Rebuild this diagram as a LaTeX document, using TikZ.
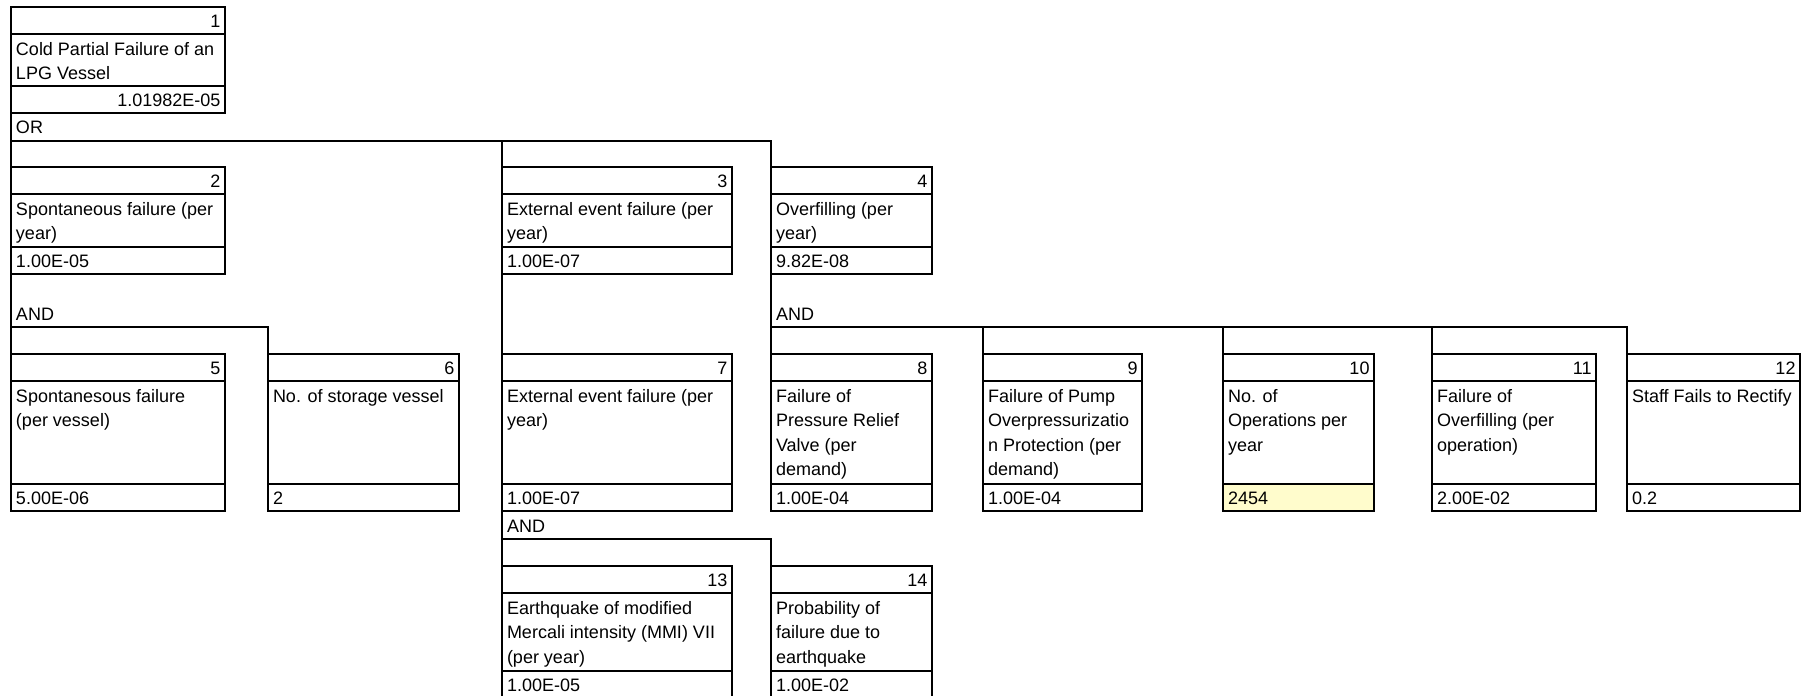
\documentclass[tikz,border=0pt]{standalone}
\usepackage{fontspec}
\setmainfont{Liberation Sans}
\tikzset{
  cell/.style={draw=black, line width=1.5pt},
  boxnode/.style={cell, rectangle, inner sep=0pt, outer sep=0pt, anchor=north west},
  lbl/.style={font=\fontsize{18}{24.5}\selectfont, inner sep=0pt, outer sep=0pt, text=black},
  conn/.style={draw=black, line width=1.5pt},
}
% #1 name, #2 left x, #3 right x, #4 top y, #5 bottom of description row,
% #6 number, #7 description, #8 value, #9 value alignment (l or r)
\newcommand\ftevent[9]{%
  \node[boxnode, minimum width={#3-#2}, minimum height={#5+27-#4}] (#1) at (#2,#4) {};
  \draw[cell] (#2,{#4+27}) -- (#3,{#4+27});
  \draw[cell] (#2,#5) -- (#3,#5);
  \node[lbl, anchor=base east] (#1n) at ({#3-4.5},{#4+20.3}) {#6};
  \node[lbl, anchor=north west, align=left] (#1d) at ({#2+5},{#4+27+3.85}) {\strut #7};
  \def\ftalign{#9}\def\ftright{r}%
  \ifx\ftalign\ftright
    \node[lbl, anchor=base east] (#1v) at ({#3-4.5},{#5+20}) {#8};
  \else
    \node[lbl, anchor=base west] (#1v) at ({#2+5},{#5+20}) {#8};
  \fi
}
\begin{document}
\begin{tikzpicture}[x=1pt, y=-1pt]
\fill[white] (0,0) rectangle (1802,696);
\useasboundingbox (0,0) rectangle (1802,696);

% yellow value cell of event 10
\fill[yellow!20] (1223,484) rectangle (1374,511);

\ftevent{b1}{11}{225}{7}{86}{1}{Cold Partial Failure of an\\LPG Vessel}{1.01982E-05}{r}
\ftevent{b2}{11}{225}{167}{247}{2}{Spontaneous failure (per\\year)}{1.00E-05}{l}
\ftevent{b3}{502}{732}{167}{247}{3}{External event failure (per\\year)}{1.00E-07}{l}
\ftevent{b4}{771}{932}{167}{247}{4}{Overfilling (per\\year)}{9.82E-08}{l}

\ftevent{b5}{11}{225}{354}{484}{5}{Spontanesous failure\\(per vessel)}{5.00E-06}{l}
\ftevent{b6}{268}{459}{354}{484}{6}{No. of storage vessel}{2}{l}
\ftevent{b7}{502}{732}{354}{484}{7}{External event failure (per\\year)}{1.00E-07}{l}
\ftevent{b8}{771}{932}{354}{484}{8}{Failure of\\Pressure Relief\\Valve (per\\demand)}{1.00E-04}{l}
\ftevent{b9}{983}{1142}{354}{484}{9}{Failure of Pump\\Overpressurizatio\\n Protection (per\\demand)}{1.00E-04}{l}
\ftevent{b10}{1223}{1374}{354}{484}{10}{No. of\\Operations per\\year}{2454}{l}
\ftevent{b11}{1432}{1596}{354}{484}{11}{Failure of\\Overfilling (per\\operation)}{2.00E-02}{l}
\ftevent{b12}{1627}{1800}{354}{484}{12}{Staff Fails to Rectify}{0.2}{l}

\ftevent{b13}{502}{732}{566}{671}{13}{Earthquake of modified\\Mercali intensity (MMI) VII\\(per year)}{1.00E-05}{l}
\ftevent{b14}{771}{932}{566}{671}{14}{Probability of\\failure due to\\earthquake}{1.00E-02}{l}

% gate under event 1
\coordinate (g1) at (11,141);
\node[lbl, anchor=base west] (g1l) at (16,133.5) {OR};
\draw[conn] (b1.south west) -- (b2.north west);
\draw[conn] (g1) -| (b4.north west);
\draw[conn] (g1 -| b3.north west) -- (b3.north west);

% gate under event 2
\coordinate (g2) at (11,327);
\node[lbl, anchor=base west] (g2l) at (16,320.5) {AND};
\draw[conn] (b2.south west) -- (b5.north west);
\draw[conn] (g2) -| (b6.north west);

% single branch under event 3
\draw[conn] (b3.south west) -- (b7.north west);

% gate under event 4
\coordinate (g4) at (771,327);
\node[lbl, anchor=base west] (g4l) at (776,320.5) {AND};
\draw[conn] (b4.south west) -- (b8.north west);
\draw[conn] (g4) -| (b12.north west);
\draw[conn] (g4 -| b9.north west) -- (b9.north west);
\draw[conn] (g4 -| b10.north west) -- (b10.north west);
\draw[conn] (g4 -| b11.north west) -- (b11.north west);

% gate under event 7
\coordinate (g7) at (502,539);
\node[lbl, anchor=base west] (g7l) at (507,532) {AND};
\draw[conn] (b7.south west) -- (b13.north west);
\draw[conn] (g7) -| (b14.north west);
\end{tikzpicture}
\end{document}
